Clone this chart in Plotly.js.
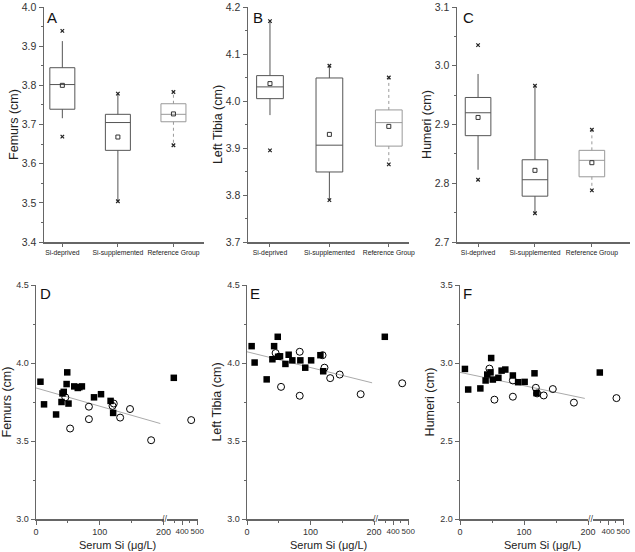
<!DOCTYPE html>
<html><head><meta charset="utf-8">
<script src="https://cdn.plot.ly/plotly-3.0.1.min.js"></script>
<style>html,body{margin:0;padding:0;background:#fff}#chart{width:635px;height:552px}</style>
</head><body><div id="chart"></div>
<script>
// ---------- data ----------
const groups = ['Si-deprived', 'Si-supplemented', 'Reference Group'];

// A: Femurs (cm)
const femurQ1   = [3.739, 3.634, 3.707];
const femurMed  = [3.802, 3.705, 3.726];
const femurQ3   = [3.845, 3.726, 3.753];
const femurLo   = [3.716, 3.505, 3.647];
const femurHi   = [3.913, 3.779, 3.783];
const femurMean = [3.800, 3.668, 3.727];
const femurMin  = [3.669, 3.504, 3.647];
const femurMax  = [3.939, 3.779, 3.783];

// B: Left Tibia (cm)
const tibiaQ1   = [4.005, 3.849, 3.904];
const tibiaMed  = [4.030, 3.906, 3.954];
const tibiaQ3   = [4.054, 4.049, 3.981];
const tibiaLo   = [3.970, 3.789, 3.865];
const tibiaHi   = [4.170, 4.075, 4.050];
const tibiaMean = [4.037, 3.929, 3.946];
const tibiaMin  = [3.895, 3.789, 3.865];
const tibiaMax  = [4.170, 4.075, 4.050];

// C: Humeri (cm)
const humeriQ1   = [2.881, 2.778, 2.811];
const humeriMed  = [2.920, 2.806, 2.839];
const humeriQ3   = [2.946, 2.840, 2.856];
const humeriLo   = [2.823, 2.749, 2.788];
const humeriHi   = [2.986, 2.966, 2.891];
const humeriMean = [2.912, 2.822, 2.835];
const humeriMin  = [2.806, 2.749, 2.788];
const humeriMax  = [3.035, 2.966, 2.891];

// D: Femurs vs serum Si
const dSqX = [7, 12.6, 31.5, 40, 41.5, 43.5, 48, 49, 51, 60, 65.5, 68, 72, 91, 102, 117, 121, 345];
const dSqY = [3.88, 3.735, 3.67, 3.75, 3.805, 3.815, 3.865, 3.94, 3.74, 3.85, 3.84, 3.845, 3.85, 3.78, 3.80, 3.757, 3.68, 3.905];
const dCiX = [46, 53.5, 83, 83, 120, 122, 132, 147.5, 180.6, 460];
const dCiY = [3.78, 3.58, 3.72, 3.64, 3.725, 3.74, 3.65, 3.705, 3.505, 3.634];
const dFitX = [0, 195];
const dFitY = [3.84, 3.612];

// E: Left Tibia vs serum Si
const eSqX = [7.3, 12, 31, 40, 42.7, 48.4, 49, 52, 60.5, 65.6, 71.4, 84, 91.7, 101, 115.6, 120, 345];
const eSqY = [4.108, 4.003, 3.895, 4.024, 4.108, 4.168, 4.04, 4.043, 3.994, 4.053, 4.017, 4.017, 3.97, 4.017, 4.05, 3.947, 4.168];
const eCiX = [45, 53.6, 83, 83, 119, 122, 131, 146, 179, 460];
const eCiY = [4.064, 3.847, 4.072, 3.79, 4.05, 3.97, 3.903, 3.926, 3.80, 3.87];
const eFitX = [0, 197];
const eFitY = [4.072, 3.873];

// F: Humeri vs serum Si
const fSqX = [7.7, 12.8, 31.8, 40, 42.6, 47.7, 48.7, 51.3, 60, 65, 70.8, 82.6, 90.8, 101, 116.4, 119.5, 345];
const fSqY = [2.962, 2.83, 2.837, 2.888, 2.926, 2.94, 3.032, 2.894, 2.905, 2.951, 2.958, 2.92, 2.877, 2.879, 2.934, 2.807, 2.939];
const fCiX = [46, 53.8, 82.6, 82.6, 118.5, 120.5, 130.8, 145, 178, 455];
const fCiY = [2.964, 2.765, 2.888, 2.784, 2.841, 2.805, 2.792, 2.833, 2.746, 2.775];
const fFitX = [0, 195];
const fFitY = [2.94, 2.773];

// ---------- layout helpers ----------
const W = 635, H = 552;
const px = v => v / W;
const py = v => 1 - v / H;
const FONT = 'Liberation Sans, Arial, Helvetica, sans-serif';
const AX = '#666';

const traces = [];
const layout = {
  width: W, height: H,
  margin: {l: 0, r: 0, t: 0, b: 0},
  paper_bgcolor: '#fff', plot_bgcolor: 'rgba(0,0,0,0)',
  showlegend: false, boxmode: 'overlay',
  font: {family: FONT, color: '#222', size: 10},
  annotations: []
};

function yAxisCfg(domain, range, dtick, minorDtick, title, anchor, fs, standoff) {
  return {
    domain: domain, range: range, anchor: anchor,
    showline: true, linecolor: AX, linewidth: 1.5,
    ticks: 'outside', ticklen: 4, tickwidth: 1, tickcolor: AX,
    dtick: dtick, tick0: 0, tickformat: '.1f',
    tickfont: {size: fs, color: '#333'},
    minor: {dtick: minorDtick, ticks: 'outside', ticklen: 2, tickcolor: AX},
    showgrid: false, zeroline: false, fixedrange: true,
    title: {text: title, font: {size: 12.5, color: '#222'}, standoff: standoff}
  };
}

// ---------- top panels (box plots) ----------
const tops = [
  {n: 1, xd: [44, 204], xr: [-0.33, 2.55], yr: [3.4, 4.0], title: 'Femurs (cm)', letter: 'A', lx: 52,
   q1: femurQ1, med: femurMed, q3: femurQ3, lo: femurLo, hi: femurHi, mean: femurMean, mn: femurMin, mx: femurMax},
  {n: 2, xd: [248, 409], xr: [-0.37, 2.34], yr: [3.7, 4.2], title: 'Left Tibia (cm)', letter: 'B', lx: 258,
   q1: tibiaQ1, med: tibiaMed, q3: tibiaQ3, lo: tibiaLo, hi: tibiaHi, mean: tibiaMean, mn: tibiaMin, mx: tibiaMax},
  {n: 3, xd: [457, 630], xr: [-0.37, 2.67], yr: [2.7, 3.1], title: 'Humeri (cm)', letter: 'C', lx: 468,
   q1: humeriQ1, med: humeriMed, q3: humeriQ3, lo: humeriLo, hi: humeriHi, mean: humeriMean, mn: humeriMin, mx: humeriMax}
];

tops.forEach(p => {
  const xa = 'x' + p.n, ya = 'y' + p.n;
  const xk = 'xaxis' + (p.n === 1 ? '' : p.n), yk = 'yaxis' + (p.n === 1 ? '' : p.n);
  layout[xk] = {
    domain: [px(p.xd[0]), px(p.xd[1])], anchor: ya, type: 'category',
    categoryorder: 'array', categoryarray: groups, range: p.xr,
    showline: true, linecolor: AX, linewidth: 1.5,
    ticks: 'outside', ticklen: 3, tickcolor: AX, tickangle: 0,
    tickfont: {size: 6.8, color: '#222'}, showgrid: false, zeroline: false, fixedrange: true
  };
  layout[yk] = yAxisCfg([py(242), py(7)], p.yr, 0.1, 0.05, p.title, xa, 10.5, 0);

  // solid boxes (first two groups)
  traces.push({
    type: 'box', xaxis: xa, yaxis: ya, x: groups.slice(0, 2),
    q1: p.q1.slice(0, 2), median: p.med.slice(0, 2), q3: p.q3.slice(0, 2),
    lowerfence: p.lo.slice(0, 2), upperfence: p.hi.slice(0, 2),
    width: 0.45, whiskerwidth: 0, boxpoints: false,
    line: {color: '#555', width: 1}, fillcolor: 'rgba(0,0,0,0)', hoverinfo: 'skip'
  });
  // reference group box (whiskers drawn dashed separately)
  traces.push({
    type: 'box', xaxis: xa, yaxis: ya, x: [groups[2]],
    q1: [p.q1[2]], median: [p.med[2]], q3: [p.q3[2]],
    lowerfence: [p.q1[2]], upperfence: [p.q3[2]],
    width: 0.45, whiskerwidth: 0, boxpoints: false,
    line: {color: '#999', width: 1}, fillcolor: 'rgba(0,0,0,0)', hoverinfo: 'skip'
  });
  traces.push({
    type: 'scatter', mode: 'lines', xaxis: xa, yaxis: ya,
    x: [groups[2], groups[2], null, groups[2], groups[2]],
    y: [p.q1[2], p.lo[2], null, p.q3[2], p.hi[2]],
    line: {color: '#999', width: 1, dash: 'dot'}, hoverinfo: 'skip'
  });
  // means
  traces.push({
    type: 'scatter', mode: 'markers', xaxis: xa, yaxis: ya, x: groups, y: p.mean,
    marker: {symbol: 'square-open', size: 4, color: '#333', line: {width: 1}}, hoverinfo: 'skip'
  });
  // min / max
  traces.push({
    type: 'scatter', mode: 'markers', xaxis: xa, yaxis: ya,
    x: groups.concat(groups), y: p.mn.concat(p.mx),
    marker: {symbol: 'x-thin', size: 3.5, color: '#222', line: {width: 1.2, color: '#222'}}, hoverinfo: 'skip'
  });
  layout.annotations.push({
    xref: 'paper', yref: 'paper', x: px(p.lx), y: py(17), text: p.letter, showarrow: false,
    xanchor: 'center', yanchor: 'middle', font: {size: 15, color: '#111'}
  });
});

// ---------- bottom panels (scatter with broken axis) ----------
const bots = [
  {yn: 4, x1: 4, x2: 5, d1: [36, 163.5], d2: [167, 198], yr: [3, 4.5], title: 'Femurs (cm)', letter: 'D', lx: 45,
   sqX: dSqX, sqY: dSqY, ciX: dCiX, ciY: dCiY, fitX: dFitX, fitY: dFitY},
  {yn: 5, x1: 6, x2: 7, d1: [247, 374], d2: [378, 409], yr: [3, 4.5], title: 'Left Tibia (cm)', letter: 'E', lx: 255,
   sqX: eSqX, sqY: eSqY, ciX: eCiX, ciY: eCiY, fitX: eFitX, fitY: eFitY},
  {yn: 6, x1: 8, x2: 9, d1: [460, 588], d2: [593, 624], yr: [2, 3.5], title: 'Humeri (cm)', letter: 'F', lx: 467,
   sqX: fSqX, sqY: fSqY, ciX: fCiX, ciY: fCiY, fitX: fFitX, fitY: fFitY}
];
const BREAK = 200;

bots.forEach(p => {
  const ya = 'y' + p.yn, xa1 = 'x' + p.x1, xa2 = 'x' + p.x2;
  layout['yaxis' + p.yn] = yAxisCfg([py(519), py(285)], p.yr, 0.5, 0.25, p.title, xa1, 9, 3);
  const common = {
    anchor: ya, showline: true, linecolor: AX, linewidth: 1.5,
    ticks: 'outside', ticklen: 4, tickcolor: AX, tickangle: 0,
    tickfont: {size: 9, color: '#333'}, showgrid: false, zeroline: false, fixedrange: true
  };
  layout['xaxis' + p.x1] = Object.assign({}, common, {
    domain: [px(p.d1[0]), px(p.d1[1])], range: [0, 200], tickvals: [0, 100, 200],
    minor: {tickvals: [50, 150], ticks: 'outside', ticklen: 2, tickcolor: AX}
  });
  layout['xaxis' + p.x2] = Object.assign({}, common, {
    domain: [px(p.d2[0]), px(p.d2[1])], range: [300, 505], tickvals: [400, 500],
    tickfont: {size: 8, color: '#333'},
    minor: {tickvals: [350, 450], ticks: 'outside', ticklen: 2, tickcolor: AX}
  });

  // regression line
  traces.push({type: 'scatter', mode: 'lines', xaxis: xa1, yaxis: ya, x: p.fitX, y: p.fitY,
    line: {color: '#aaa', width: 1}, hoverinfo: 'skip'});

  const split = (xs, ys, low) => {
    const ox = [], oy = [];
    xs.forEach((v, i) => { if ((v <= BREAK) === low) { ox.push(v); oy.push(ys[i]); } });
    return [ox, oy];
  };
  [[xa1, true], [xa2, false]].forEach(([xa, low]) => {
    const [sx, sy] = split(p.sqX, p.sqY, low);
    traces.push({type: 'scatter', mode: 'markers', xaxis: xa, yaxis: ya, x: sx, y: sy,
      marker: {symbol: 'square', size: 6.5, color: '#000'}, cliponaxis: false, hoverinfo: 'skip'});
    const [cx, cy] = split(p.ciX, p.ciY, low);
    traces.push({type: 'scatter', mode: 'markers', xaxis: xa, yaxis: ya, x: cx, y: cy,
      marker: {symbol: 'circle-open', size: 7, color: '#000', line: {width: 1}}, cliponaxis: false, hoverinfo: 'skip'});
  });

  layout.annotations.push({
    xref: 'paper', yref: 'paper', x: px(p.lx), y: py(293), text: p.letter, showarrow: false,
    xanchor: 'center', yanchor: 'middle', font: {size: 15, color: '#111'}
  });
  // axis break mark
  layout.annotations.push({
    xref: 'paper', yref: 'paper', x: px((p.d1[1] + p.d2[0]) / 2), y: py(519), text: '//', showarrow: false,
    xanchor: 'center', yanchor: 'middle', font: {size: 9, color: '#444'}
  });
  // x title
  layout.annotations.push({
    xref: 'paper', yref: 'paper', x: px((p.d1[0] + p.d2[1]) / 2), y: py(545), text: 'Serum Si (\u03bcg/L)',
    showarrow: false, xanchor: 'center', yanchor: 'middle', font: {size: 11, color: '#222'}
  });
});

Plotly.newPlot('chart', traces, layout, {staticPlot: true, displayModeBar: false});
</script>
</body></html>
